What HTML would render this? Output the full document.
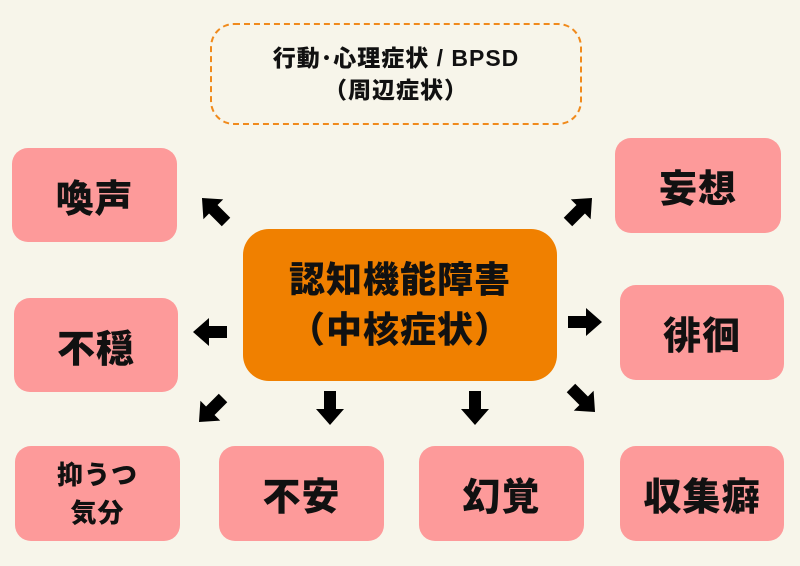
<!DOCTYPE html>
<html><head><meta charset="utf-8"><style>
body{margin:0;width:800px;height:566px;background:#f7f5ea;position:relative;overflow:hidden;font-family:"Liberation Sans","Noto Sans CJK JP",sans-serif;font-weight:900;color:#111}
.b{position:absolute;background:#fd9a9a;border-radius:16px;display:flex;align-items:center;justify-content:center;text-align:center;font-size:38px;letter-spacing:1px}
.s{font-size:26px;line-height:38px}
</style></head><body>
<div style="position:absolute;left:210px;top:23px;width:368px;height:98px;border:2.5px dashed #f08a1c;border-radius:24px;display:flex;align-items:center;justify-content:center;text-align:center;font-size:23px;line-height:32px;letter-spacing:1px">行動･心理症状 / BPSD<br>（周辺症状）</div>
<div style="position:absolute;left:243px;top:229px;width:314px;height:152px;background:#f08000;border-radius:26px;display:flex;align-items:center;justify-content:center;text-align:center;font-size:36px;line-height:50px;letter-spacing:1px">認知機能障害<br>（中核症状）</div>
<div class="b" style="left:12px;top:148px;width:165px;height:94px">喚声</div>
<div class="b" style="left:14px;top:298px;width:164px;height:94px">不穏</div>
<div class="b s" style="left:15px;top:446px;width:165px;height:95px">抑うつ<br>気分</div>
<div class="b" style="left:219px;top:446px;width:165px;height:95px">不安</div>
<div class="b" style="left:419px;top:446px;width:165px;height:95px">幻覚</div>
<div class="b" style="left:620px;top:446px;width:164px;height:95px">収集癖</div>
<div class="b" style="left:615px;top:138px;width:166px;height:95px">妄想</div>
<div class="b" style="left:620px;top:285px;width:164px;height:95px">徘徊</div>
<svg width="800" height="566" style="position:absolute;left:0;top:0">
<defs><polygon id="a" points="-17,-6 1,-6 1,-14 17,0 1,14 1,6 -17,6" fill="#000"/></defs>
<use href="#a" transform="translate(214,210) rotate(-135)"/>
<use href="#a" transform="translate(210,332) rotate(180)"/>
<use href="#a" transform="translate(211,410) rotate(135)"/>
<use href="#a" transform="translate(330,408) rotate(90)"/>
<use href="#a" transform="translate(475,408) rotate(90)"/>
<use href="#a" transform="translate(583,400) rotate(45)"/>
<use href="#a" transform="translate(585,322)"/>
<use href="#a" transform="translate(580,210) rotate(-45)"/>
</svg>
</body></html>
